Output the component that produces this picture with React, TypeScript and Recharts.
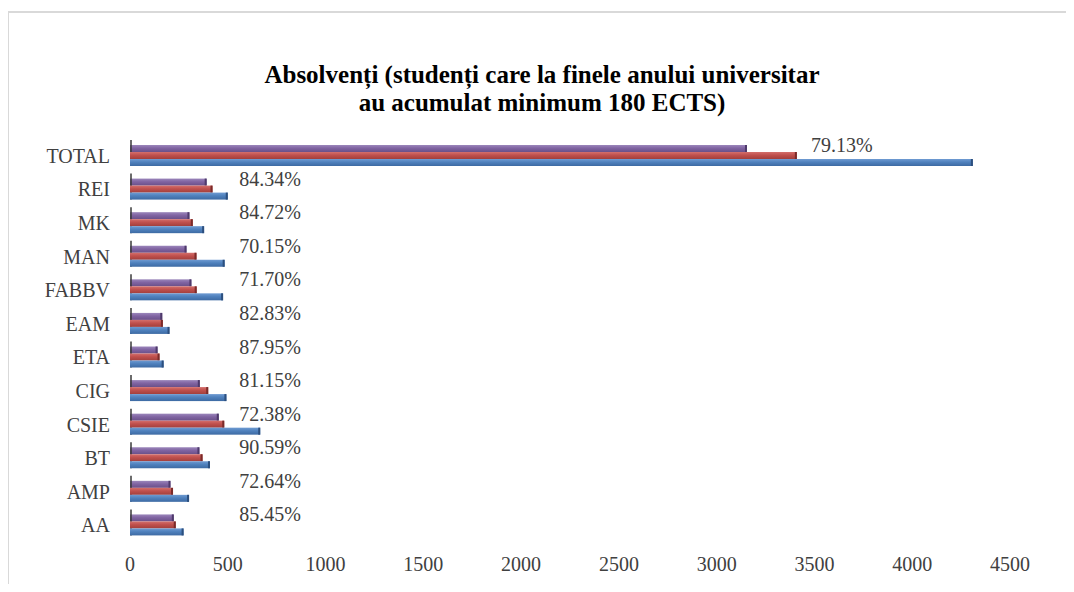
import React from 'react';
import { BarChart, Bar, XAxis, YAxis, LabelList } from 'recharts';

const categories = ['TOTAL', 'REI', 'MK', 'MAN', 'FABBV', 'EAM', 'ETA', 'CIG', 'CSIE', 'BT', 'AMP', 'AA'];
const purpleValues = [3155, 392, 304, 289, 314, 165, 141, 357, 454, 355, 207, 224];
const redValues = [3410, 422, 321, 340, 341, 168, 151, 400, 482, 371, 220, 234];
const blueValues = [4310, 500, 379, 484, 476, 202, 172, 493, 666, 409, 302, 274];
const percentLabels = ['79.13%', '84.34%', '84.72%', '70.15%', '71.70%', '82.83%', '87.95%', '81.15%', '72.38%', '90.59%', '72.64%', '85.45%'];
const xTicks = [0, 500, 1000, 1500, 2000, 2500, 3000, 3500, 4000, 4500];
const titleLines = ['Absolvenți (studenți care la finele anului universitar', 'au acumulat minimum 180 ECTS)'];

const data = categories.map((name, i) => ({
  name,
  purple: purpleValues[i],
  red: redValues[i],
  blue: blueValues[i],
  pct: percentLabels[i],
}));

const FONT = '"Liberation Serif", "Times New Roman", serif';

// bar with a little of the old 3D look: light top, dark end cap
const makeShape = (id: string, edge: string, withWall: boolean) => (props: any) => {
  const { x, y, width, height } = props;
  if (width == null || width <= 0) return null;
  return (
    <g>
      <rect x={x} y={y} width={width} height={height} fill={`url(#${id})`} />
      <rect x={x + width - 2} y={y} width={2} height={height} fill={edge} />
      {withWall && (
        <line x1={x + 1} y1={y - 5} x2={x + 1} y2={y + height * 3} stroke="#3a3a3a" strokeWidth={1.5} />
      )}
    </g>
  );
};

const PctLabel = (props: any) => {
  const { x, y, width, value } = props;
  const cx = Math.max(x + width + 45, x + 140);
  return (
    <text x={cx} y={y - 7} textAnchor="middle" dominantBaseline="central" fontFamily={FONT} fontSize={20} fill="#404040">
      {value}
    </text>
  );
};

const App: React.FC = () => {
  return (
    <div style={{ position: 'relative', margin: -8, width: 1074, height: 592, overflow: 'hidden', background: '#fff' }}>
      <div style={{ position: 'absolute', left: 7, top: 11, width: 1100, height: 620, border: '2px solid #d9d9d9' }} />
      <svg style={{ position: 'absolute', left: 0, top: 0 }} width={1074} height={130}>
        {titleLines.map((line, i) => (
          <text
            key={i}
            x={542}
            y={74 + i * 28}
            textAnchor="middle"
            dominantBaseline="central"
            fontFamily={FONT}
            fontWeight="bold"
            fontSize={25}
            fill="#000"
          >
            {line}
          </text>
        ))}
      </svg>
      <div style={{ position: 'absolute', left: 0, top: 0 }}>
        <BarChart
          width={1074}
          height={592}
          data={data}
          layout="vertical"
          margin={{ top: 139, right: 64, bottom: 10, left: 10 }}
          barGap={0}
          barSize={7}
        >
          <defs>
            <linearGradient id="gPurple" x1="0" y1="0" x2="0" y2="1">
              <stop offset="0%" stopColor="#9b86bb" />
              <stop offset="45%" stopColor="#8064a2" />
              <stop offset="100%" stopColor="#6a5089" />
            </linearGradient>
            <linearGradient id="gRed" x1="0" y1="0" x2="0" y2="1">
              <stop offset="0%" stopColor="#d46f6c" />
              <stop offset="45%" stopColor="#c0504d" />
              <stop offset="100%" stopColor="#a23f3c" />
            </linearGradient>
            <linearGradient id="gBlue" x1="0" y1="0" x2="0" y2="1">
              <stop offset="0%" stopColor="#6f9bd2" />
              <stop offset="45%" stopColor="#4f81bd" />
              <stop offset="100%" stopColor="#3d6aa3" />
            </linearGradient>
          </defs>
          <XAxis
            type="number"
            domain={[0, 4500]}
            ticks={xTicks}
            axisLine={false}
            tickLine={false}
            tickSize={0}
            tickMargin={15}
            height={40}
            tick={{ fontFamily: FONT, fontSize: 20, fill: '#404040' }}
          />
          <YAxis
            type="category"
            dataKey="name"
            width={120}
            axisLine={false}
            tickLine={false}
            tickSize={0}
            tickMargin={20}
            tick={{ fontFamily: FONT, fontSize: 20, fill: '#404040' }}
          />
          <Bar dataKey="purple" isAnimationActive={false} shape={makeShape('gPurple', '#4e3a6b', true)} />
          <Bar dataKey="red" isAnimationActive={false} shape={makeShape('gRed', '#7a2b29', false)}>
            <LabelList dataKey="pct" content={PctLabel} />
          </Bar>
          <Bar dataKey="blue" isAnimationActive={false} shape={makeShape('gBlue', '#2c4f7e', false)} />
        </BarChart>
      </div>
    </div>
  );
};

export default App;
